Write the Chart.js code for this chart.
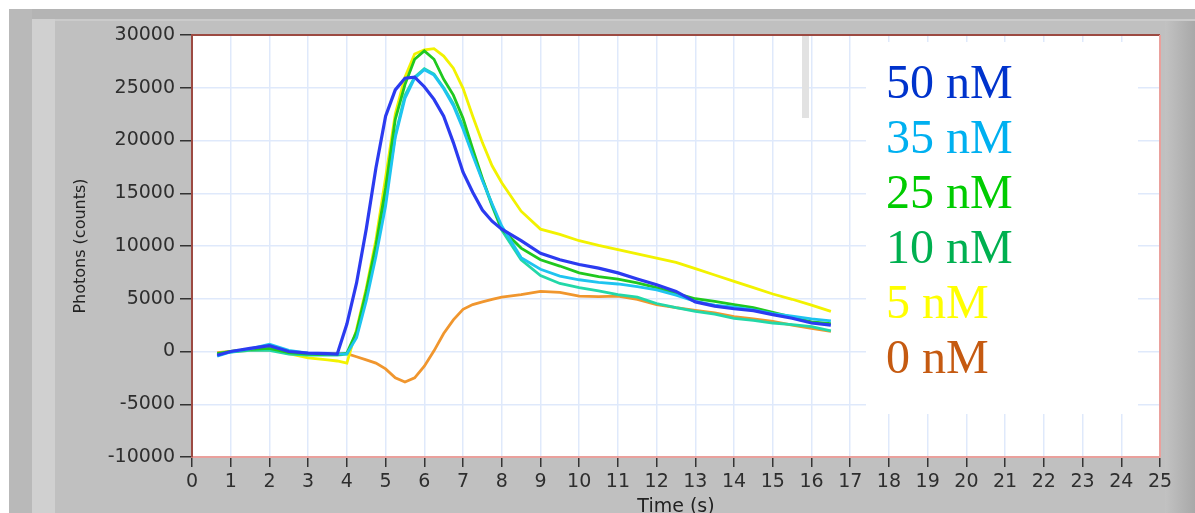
<!DOCTYPE html>
<html>
<head>
<meta charset="utf-8">
<title>Photons vs time</title>
<script src="https://cdn.jsdelivr.net/npm/chart.js@4.4.1/dist/chart.umd.min.js"></script>
<style>
    html, body { margin: 0; padding: 0; background: #fff; }
    canvas { display: block; }
</style>
</head>
<body>
<canvas id="myChart" width="1195" height="513"></canvas>
<script>
// data (time in s, photons in counts)
const times = [0.65, 1, 1.5, 2, 2.5, 3, 3.5,
    3.75, 4, 4.25, 4.5, 4.75, 5, 5.25, 5.5, 5.75, 6, 6.25, 6.5, 6.75, 7, 7.25, 7.5, 7.75, 8,
    8.5, 9, 9.5, 10, 10.5, 11, 11.5, 12, 12.5, 13, 13.5, 14, 14.5, 15, 15.5, 16, 16.5];

const nM50 = [-350, 0, 300, 550, 0, -150, -200,
    -250, 2600, 6500, 11600, 17400, 22300, 24800, 25900, 26000, 25100, 23900, 22300, 19800, 17000, 15100, 13400, 12350, 11600,
    10500, 9300, 8700, 8250, 7900, 7450, 6870, 6330, 5700, 4700, 4300, 4050, 3880, 3500, 3150, 2700, 2500];
const nM35 = [-450, -50, 250, 700, 100, -150, -250,
    -250, -200, 1300, 4800, 9000, 13800, 20300, 24000, 25900, 26700, 26200, 24900, 23300, 21100, 18600, 16200, 14000, 11900,
    8900, 7800, 7150, 6800, 6550, 6400, 6150, 5850, 5350, 4750, 4400, 4200, 3950, 3600, 3350, 3100, 2900];
const nM25 = [-200, 0, 200, 300, -100, -250, -300,
    -300, -150, 1900, 5700, 10100, 15500, 22000, 25300, 27700, 28500, 27700, 25800, 24300, 22100, 19200, 16400, 13900, 11600,
    9800, 8700, 8100, 7450, 7100, 6850, 6500, 6050, 5500, 5000, 4750, 4450, 4150, 3700, 3250, 2800, 2650];
const nM10 = [-200, -50, 100, 100, -250, -350, -350,
    -350, -250, 1500, 5200, 9500, 14500, 20500, 24300, 26000, 26800, 26300, 25000, 23500, 21300, 18800, 16300, 13800, 11500,
    8700, 7200, 6450, 6050, 5750, 5400, 5150, 4550, 4150, 3800, 3550, 3150, 2950, 2700, 2550, 2350, 1950];
const nM5 = [-200, 0, 150, 200, -200, -600, -800,
    -900, -1100, 2100, 6000, 10600, 16500, 22500, 26000, 28200, 28600, 28700, 28000, 26850, 24950, 22300, 19800, 17600, 16000,
    13300, 11600, 11100, 10500, 10050, 9650, 9250, 8850, 8450, 7850, 7250, 6650, 6050, 5450, 4950, 4400, 3800];
const nM0 = [-100, 0, 100, 150, -100, -200, -200,
    -200, -200, -500, -800, -1100, -1650, -2500, -2900, -2500, -1400, 60, 1700, 3000, 4000, 4450, 4700, 4950, 5150,
    5400, 5700, 5600, 5250, 5200, 5250, 4950, 4450, 4150, 3900, 3650, 3300, 3100, 2850, 2500, 2200, 1900];

const seriesLabels = ["50 nM", "35 nM", "25 nM", "10 nM", "5 nM", "0 nM"];
const seriesValues = [nM50, nM35, nM25, nM10, nM5, nM0];
const lineColors = ["#2b3bf0", "#1ec4f0", "#1fc81f", "#22d8a8", "#f2f200", "#f0962e"];
const labelColors = ["#0033cc", "#00b0f0", "#00cc00", "#00b050", "#ffff00", "#c55a11"];

const xMin = 0, xMax = 25, xStep = 1;
const yMin = -10000, yMax = 30000, yStep = 5000;

// gray LabVIEW-like panel behind the plot
const panelBackground = {
    id: "panelBackground",
    beforeDraw(chart) {
        const { ctx, width, height, chartArea: a } = chart;
        ctx.save();
        ctx.fillStyle = "#fff";
        ctx.fillRect(0, 0, width, height);
        ctx.fillStyle = "#c0c0c0";
        ctx.fillRect(9, 9, width - 9, height - 9);
        ctx.fillStyle = "#b4b4b4";
        ctx.fillRect(9, 9, width - 9, 10);
        ctx.fillStyle = "#cbcbcb";
        ctx.fillRect(32, 19, width - 32, 2);
        ctx.fillStyle = "#b9b9b9";
        ctx.fillRect(9, 9, 23, height - 9);
        ctx.fillStyle = "#d0d0d0";
        ctx.fillRect(32, 19, 23, height - 19);
        const g = ctx.createLinearGradient(1165, 0, width, 0);
        g.addColorStop(0, "#c2c2c2");
        g.addColorStop(1, "#a8a8a8");
        ctx.fillStyle = g;
        ctx.fillRect(1165, 21, width - 1165, height - 21);
        ctx.fillStyle = "#fff";
        ctx.fillRect(a.left, a.top, a.right - a.left, a.bottom - a.top);
        ctx.restore();
    },
};

// pasted legend box with coloured text
const legendBox = {
    id: "legendBox",
    afterDatasetsDraw(chart) {
        const ctx = chart.ctx;
        ctx.save();
        ctx.fillStyle = "#e2e2e2";
        ctx.fillRect(802, 36, 7, 82);
        ctx.fillStyle = "#fff";
        ctx.fillRect(866, 42, 272, 372);
        ctx.font = "48px 'Liberation Serif', serif";
        ctx.textBaseline = "alphabetic";
        seriesLabels.forEach((label, i) => {
            ctx.fillStyle = labelColors[i];
            ctx.fillText(label, 886, 98 + i * 55);
        });
        ctx.restore();
    },
};

// top and right edges of the plot frame
const plotFrame = {
    id: "plotFrame",
    afterDraw(chart) {
        const { ctx, chartArea: a } = chart;
        ctx.save();
        ctx.lineWidth = 2;
        ctx.strokeStyle = "#9c4a42";
        ctx.beginPath();
        ctx.moveTo(a.left, a.top);
        ctx.lineTo(a.right, a.top);
        ctx.stroke();
        ctx.strokeStyle = "#eaa09c";
        ctx.beginPath();
        ctx.moveTo(a.right, a.top);
        ctx.lineTo(a.right, a.bottom);
        ctx.stroke();
        ctx.restore();
    },
};

const datasets = seriesLabels.map((label, i) => ({
    label: label,
    data: times.map((t, j) => ({ x: t, y: seriesValues[i][j] })),
    borderColor: lineColors[i],
    backgroundColor: lineColors[i],
    borderWidth: i === 0 ? 3.2 : 2.8,
    pointRadius: 0,
    tension: 0,
    fill: false,
}));

const tickFont = { family: "'DejaVu Sans', sans-serif", size: 19 };

const config = {
    type: "line",
    data: { datasets: datasets },
    options: {
        responsive: false,
        animation: false,
        layout: { padding: { top: 35, right: 35, bottom: 0, left: 0 } },
        plugins: {
            legend: { display: false },
            tooltip: { enabled: false },
        },
        scales: {
            x: {
                type: "linear",
                min: xMin,
                max: xMax,
                afterFit: (scale) => { scale.height = 56; },
                ticks: {
                    stepSize: xStep,
                    autoSkip: false,
                    maxRotation: 0,
                    padding: 4,
                    color: "#2e2e2e",
                    font: tickFont,
                },
                grid: {
                    color: "#dfe9fb",
                    lineWidth: 1.5,
                    tickColor: "#333",
                    tickLength: 10,
                    tickWidth: 1.5,
                },
                border: { color: "#eaa09c", width: 2 },
                title: {
                    display: true,
                    text: "Time (s)",
                    color: "#222",
                    font: { family: "'DejaVu Sans', sans-serif", size: 19 },
                    padding: { top: 0, bottom: -5 },
                },
            },
            y: {
                min: yMin,
                max: yMax,
                afterFit: (scale) => { scale.width = 192; },
                ticks: {
                    stepSize: yStep,
                    padding: 5,
                    color: "#2e2e2e",
                    font: tickFont,
                    callback: (value) => String(value),
                },
                grid: {
                    color: "#dfe9fb",
                    lineWidth: 1.5,
                    tickColor: "#333",
                    tickLength: 12,
                    tickWidth: 1.5,
                },
                border: { color: "#9c4a42", width: 2 },
                title: {
                    display: true,
                    text: "Photons (counts)",
                    color: "#222",
                    font: { family: "'DejaVu Sans', sans-serif", size: 16 },
                    padding: { top: 71, bottom: 0 },
                },
            },
        },
    },
    plugins: [panelBackground, legendBox, plotFrame],
};

new Chart(document.getElementById("myChart").getContext("2d"), config);
</script>
</body>
</html>
